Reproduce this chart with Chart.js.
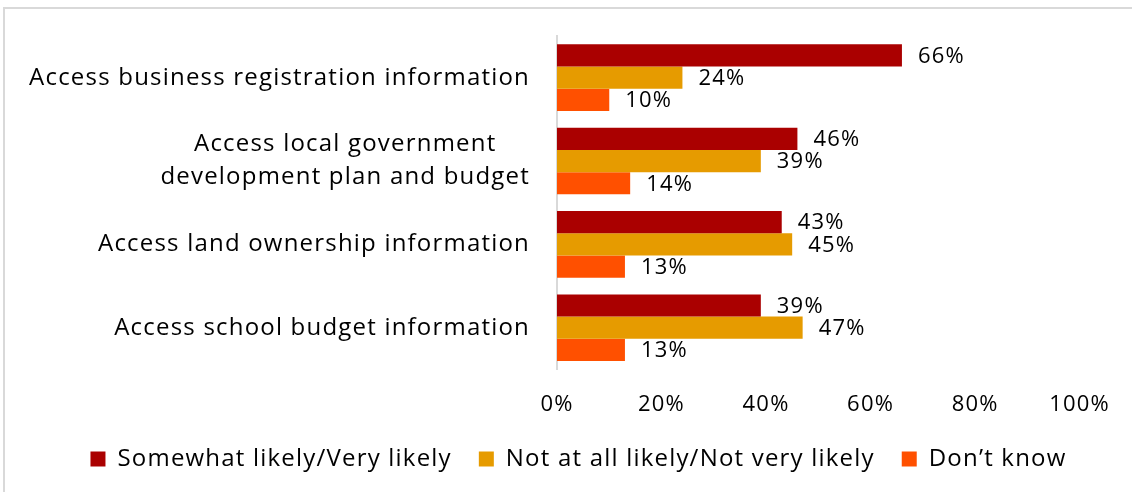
<!DOCTYPE html>
<html>
<head>
<meta charset="utf-8">
<script src="https://cdn.jsdelivr.net/npm/chart.js@4.4.1/dist/chart.umd.min.js"></script>
<style>
  html, body { margin: 0; padding: 0; background: #fff; }
  #wrap { position: relative; width: 1132px; height: 492px; overflow: hidden; }
  #frame { position: absolute; left: 3px; top: 7px; right: -10px; bottom: -10px;
           border-left: 2px solid #d9d9d9; border-top: 2px solid #d9d9d9; }
  #chart { position: absolute; left: 0; top: 0; }
</style>
</head>
<body>
<div id="wrap">
  <div id="frame"></div>
  <canvas id="chart" width="1132" height="492"></canvas>
</div>
<script>
const FONT = '"Open Sans", "DejaVu Sans", sans-serif';
const SPACING = '1.2px';

// categories (multi-line entries are arrays of lines)
const categories = [
  'Access business registration information',
  ['Access local government', 'development plan and budget'],
  'Access land ownership information',
  'Access school budget information'
];
const seriesNames = ['Somewhat likely/Very likely', 'Not at all likely/Not very likely', 'Don\u2019t know'];
const likely = [66, 46, 43, 39];
const notLikely = [24, 39, 45, 47];
const dontKnow = [10, 14, 13, 13];
const xTicks = [0, 20, 40, 60, 80, 100];
const colors = ['#AA0000', '#E69B00', '#FF5000'];

// slightly wider letter spacing for all canvas text (set before measuring and drawing)
const spacing = {
  id: 'spacing',
  beforeUpdate(chart) { chart.ctx.letterSpacing = SPACING; },
  beforeDraw(chart) { chart.ctx.letterSpacing = SPACING; },
  // legend sits a bit right of the canvas centre
  afterLayout(chart) {
    chart.legend.left += 36;
    chart.legend.right += 36;
  }
};

// category labels drawn by hand so a wrapped label centres its lines
const categoryLabels = {
  id: 'categoryLabels',
  afterDraw(chart) {
    const { ctx, chartArea } = chart;
    const y = chart.scales.y;
    ctx.save();
    ctx.font = '24px ' + FONT;
    ctx.fillStyle = '#000';
    ctx.textBaseline = 'middle';
    ctx.textAlign = 'center';
    const right = chartArea.left - 27;
    const lineH = 33;
    categories.forEach((label, i) => {
      const lines = Array.isArray(label) ? label : [label];
      const yc = y.getPixelForValue(i);
      const widest = Math.max(...lines.map(l => ctx.measureText(l).width));
      lines.forEach((line, j) => {
        const ty = yc + (j - (lines.length - 1) / 2) * lineH;
        ctx.fillText(line, right - widest / 2, ty);
      });
    });
    ctx.restore();
  }
};

// percentage labels at the end of each bar
const valueLabels = {
  id: 'valueLabels',
  afterDatasetsDraw(chart) {
    const { ctx } = chart;
    ctx.save();
    ctx.font = '22px ' + FONT;
    ctx.fillStyle = '#000';
    ctx.textAlign = 'left';
    ctx.textBaseline = 'middle';
    chart.data.datasets.forEach((ds, di) => {
      chart.getDatasetMeta(di).data.forEach((bar, i) => {
        ctx.fillText(ds.data[i] + '%', bar.x + 16, bar.y + 1);
      });
    });
    ctx.restore();
  }
};

const ctx = document.getElementById('chart').getContext('2d');
const chart = new Chart(ctx, {
  type: 'bar',
  data: {
    labels: categories,
    datasets: [
      { label: seriesNames[0], data: likely, backgroundColor: colors[0] },
      { label: seriesNames[1], data: notLikely, backgroundColor: colors[1] },
      { label: seriesNames[2], data: dontKnow, backgroundColor: colors[2] }
    ]
  },
  options: {
    indexAxis: 'y',
    responsive: false,
    animation: false,
    categoryPercentage: 0.8,
    barPercentage: 1.0,
    layout: { padding: { top: 36, right: 47, left: 0, bottom: 11 } },
    scales: {
      x: {
        min: 0,
        max: 100,
        afterBuildTicks(scale) {
          scale.ticks = xTicks.map(v => ({ value: v }));
        },
        ticks: {
          callback: v => v + '%',
          color: '#000',
          font: { family: FONT, size: 22 },
          padding: 22,
          maxRotation: 0
        },
        grid: { display: false, drawTicks: false },
        border: { display: false },
        afterFit(scale) { scale.height = 50.6; }
      },
      y: {
        ticks: { display: false },
        grid: { display: false, drawTicks: false },
        border: { display: true, color: '#d9d9d9', width: 2 },
        afterFit(scale) { scale.width = 557; }
      }
    },
    plugins: {
      legend: {
        position: 'bottom',
        labels: {
          boxWidth: 15,
          boxHeight: 15,
          color: '#000',
          font: { family: FONT, size: 24 },
          padding: 27
        }
      },
      tooltip: { enabled: false }
    }
  },
  plugins: [spacing, categoryLabels, valueLabels]
});
</script>
</body>
</html>
